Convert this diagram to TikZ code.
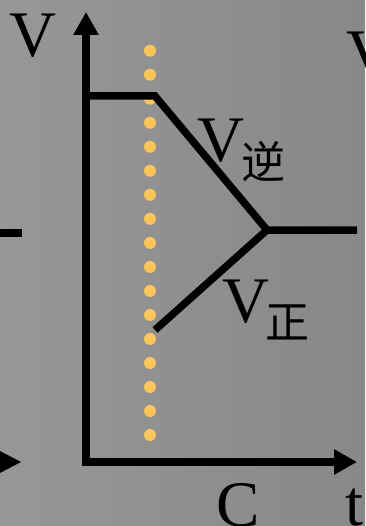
\documentclass[tikz,border=0pt]{standalone}
\usepackage{fontspec}
\setmainfont{Liberation Serif}
\newfontfamily\cjk{Noto Sans CJK SC}
\usetikzlibrary{arrows.meta}
\definecolor{bgl}{RGB}{151,151,151}
\definecolor{bgr}{RGB}{136,136,136}
\definecolor{dotc}{RGB}{250,198,90}
\definecolor{shad}{RGB}{190,190,190}
\tikzset{
  curve/.style={line width=7.5pt, black},
  shadowline/.style={line width=7pt, shad, shift={(1.2,1.8)}},
  axisline/.style={line width=8pt, black, -{Triangle[length=23pt,width=24pt]}},
  lbl/.style={inner sep=0pt, anchor=base west, font=\fontsize{65}{65}\selectfont},
  cjklbl/.style={inner sep=0pt, anchor=base west, font=\cjk\fontsize{44}{44}\selectfont},
  ydot/.style={circle, fill=dotc, inner sep=0pt, minimum size=12pt}
}
\begin{document}
\begin{tikzpicture}[x=1pt,y=-1pt]
\useasboundingbox (0,0) rectangle (365,526);
\clip (0,0) rectangle (365,526);
\shade[left color=bgl, right color=bgr] (0,0) rectangle (365,526);
% named points
\coordinate (O) at (86,462);
\coordinate (Ytop) at (86,12);
\coordinate (Xend) at (357,462);
\coordinate (P0) at (86,96);
\coordinate (P1) at (155,96);
\coordinate (J) at (267,230);
\coordinate (R) at (357,230);
\coordinate (L) at (155,330);
\coordinate (Lstub0) at (-3,233);
\coordinate (Lstub1) at (22,233);
% dotted yellow line
\foreach \i in {0,...,16}{
  \node[ydot] (d\i) at (150,{50.7+24.02*\i}) {};
}
% shadows
\draw[shadowline] (P0) -- (P1) -- (J) -- (R);
\draw[shadowline] (L) -- (J);
% curves
\draw[curve, line join=miter] (P0) -- (P1) -- (J) -- (R);
\draw[curve] (L) -- (J);
% axes
\draw[line width=8pt] ([yshift=-4pt]O) -- ([yshift=4pt]O);
\draw[axisline] ([yshift=4pt]O) -- (Ytop);
\draw[axisline] ([xshift=-4pt]O) -- (Xend);
% partial items at left edge
\draw[line width=8pt] (Lstub0) -- (Lstub1);
\coordinate (Ltip) at (21,462);
\fill (Ltip) -- (-2,450) -- (-2,474) -- cycle;
% labels
\node[lbl] (vy) at (9,56.5) {V};
\node[lbl] (vr) at (346,75) {V};
\node[lbl] (vrev) at (197,162) {V};
\node[cjklbl] (rev) at (241,179) {逆};
\node[lbl] (vfwd) at (222,322) {V};
\node[cjklbl] (fwd) at (265,338) {正};
\node[lbl] (c) at (216,526) {C};
\node[lbl] (t) at (345,525) {t};
\end{tikzpicture}
\end{document}
